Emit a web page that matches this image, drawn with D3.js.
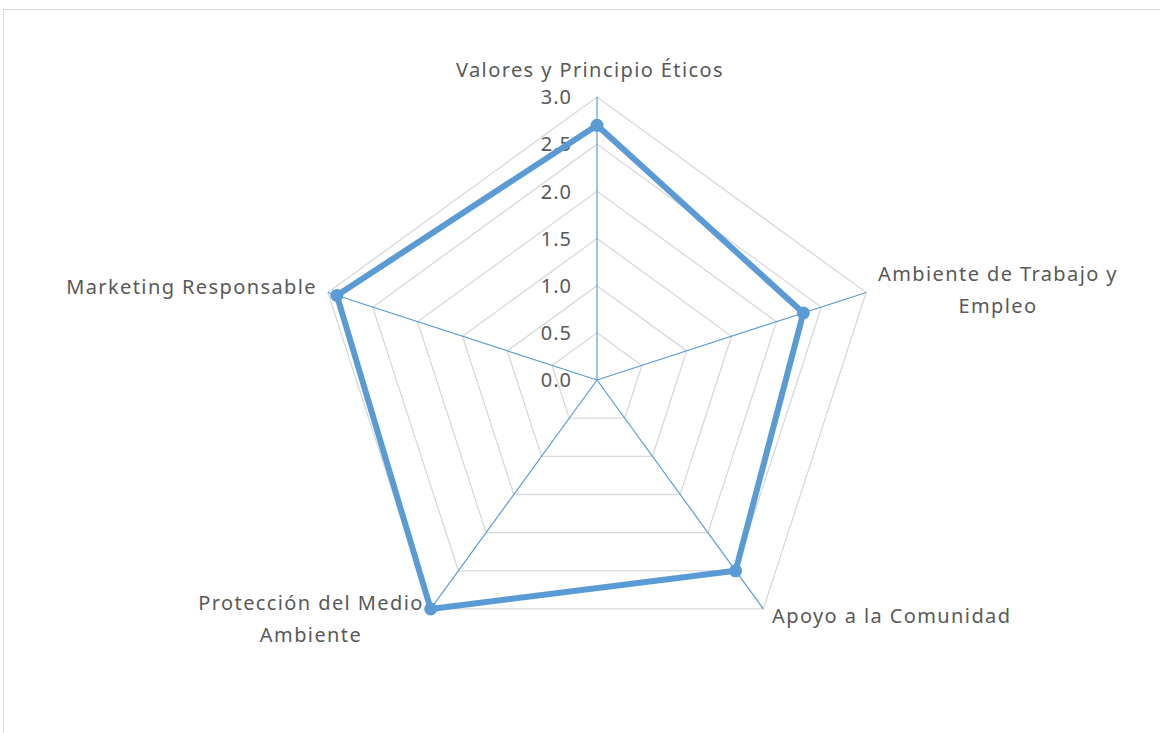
<!DOCTYPE html>
<html>
<head>
<meta charset="utf-8">
<script src="https://cdn.jsdelivr.net/npm/d3@7"></script>
<style>
  html, body { margin: 0; padding: 0; background: #fff; }
  text { font-family: "Noto Sans", "Open Sans", sans-serif; fill: #595959; }
</style>
</head>
<body>
<svg id="chart" width="1160" height="733"></svg>
<script>
// chart data
const categories = [
    ["Valores y Principio Éticos"],
    ["Ambiente de Trabajo y", "Empleo"],
    ["Apoyo a la Comunidad"],
    ["Protección del Medio", "Ambiente"],
    ["Marketing Responsable"]
];
const values = [2.7, 2.3, 2.5, 3.0, 2.9];
const tickValues = [0, 0.5, 1.0, 1.5, 2.0, 2.5, 3.0];

const cx = 597, cy = 380;
const blue = "#5b9bd5";

const svg = d3.select("#chart");

// outer chart border (runs off the right / bottom)
svg.append("rect")
    .attr("x", 3.5).attr("y", 9.5)
    .attr("width", 1200).attr("height", 800)
    .attr("fill", "none")
    .attr("stroke", "#d9d9d9");

const r = d3.scaleLinear().domain([0, 3]).range([0, 283]);
const angle = i => -Math.PI / 2 + i * 2 * Math.PI / categories.length;
const pt = (i, v) => [cx + r(v) * Math.cos(angle(i)), cy + r(v) * Math.sin(angle(i))];

const g = svg.append("g");

// grid pentagons
g.selectAll("polygon.grid")
    .data(tickValues.filter(t => t > 0))
    .join("polygon")
    .attr("class", "grid")
    .attr("points", t => categories.map((c, i) => pt(i, t).join(",")).join(" "))
    .attr("fill", "none")
    .attr("stroke", "#d9d9d9")
    .attr("stroke-width", 1.3);

// spokes
g.selectAll("line.spoke")
    .data(categories)
    .join("line")
    .attr("class", "spoke")
    .attr("x1", cx).attr("y1", cy)
    .attr("x2", (d, i) => pt(i, 3)[0])
    .attr("y2", (d, i) => pt(i, 3)[1])
    .attr("stroke", blue)
    .attr("stroke-width", 1.2);

// tick labels along the top axis
g.selectAll("text.tick")
    .data(tickValues)
    .join("text")
    .attr("class", "tick")
    .attr("x", cx - 25)
    .attr("y", t => cy - r(t))
    .attr("dy", "0.36em")
    .attr("text-anchor", "end")
    .attr("font-size", 20)
    .attr("letter-spacing", 1)
    .text(t => d3.format(".1f")(t));

// data line
const line = d3.line().curve(d3.curveLinearClosed);
g.append("path")
    .attr("d", line(values.map((v, i) => pt(i, v))))
    .attr("fill", "none")
    .attr("stroke", blue)
    .attr("stroke-width", 6)
    .attr("stroke-linejoin", "round");

g.selectAll("circle.marker")
    .data(values)
    .join("circle")
    .attr("class", "marker")
    .attr("cx", (v, i) => pt(i, v)[0])
    .attr("cy", (v, i) => pt(i, v)[1])
    .attr("r", 6.5)
    .attr("fill", blue);

// category labels
const labelPos = [
    {x: 590, y: 77, anchor: "middle"},
    {x: 998, y: 281, anchor: "middle"},
    {x: 772, y: 623, anchor: "start"},
    {x: 311, y: 610, anchor: "middle"},
    {x: 317, y: 294, anchor: "end"}
];

categories.forEach((lines, i) => {
    const p = labelPos[i];
    const t = g.append("text")
        .attr("text-anchor", p.anchor)
        .attr("font-size", 20)
        .attr("letter-spacing", 1.4);
    lines.forEach((s, k) => {
        t.append("tspan")
            .attr("x", p.x)
            .attr("y", p.y + k * 31.5)
            .text(s);
    });
});
</script>
</body>
</html>
